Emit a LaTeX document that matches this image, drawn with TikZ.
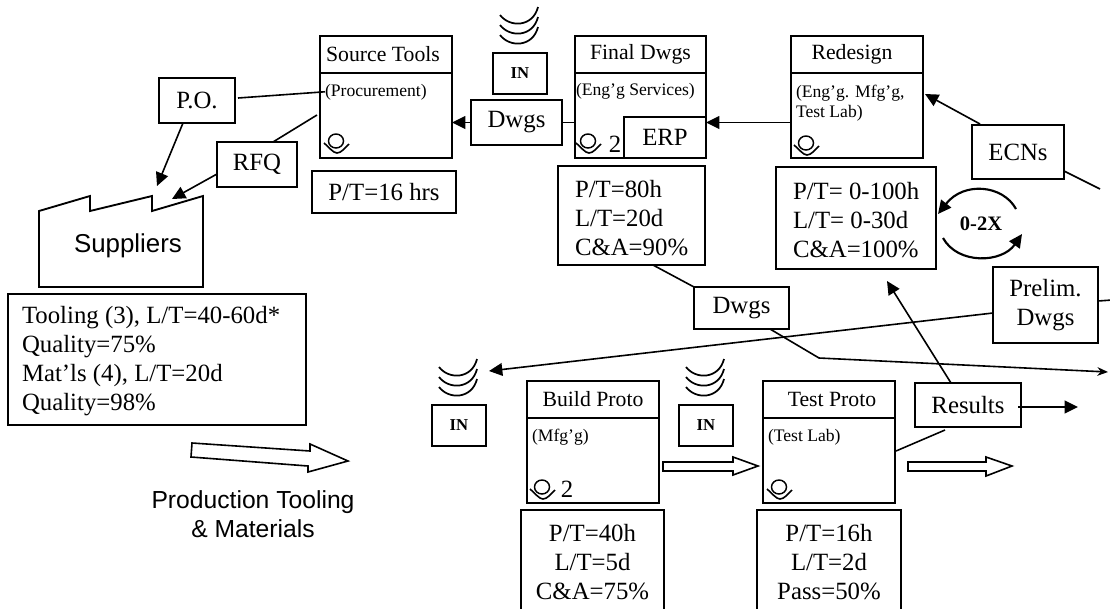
\documentclass[tikz,border=0pt]{standalone}
\usepackage{fontspec}
\setmainfont{Liberation Serif}
\newfontfamily\arialf{Liberation Sans}
\usetikzlibrary{arrows.meta,calc}
\newcommand{\fmain}{\fontsize{18.6}{21.75}\selectfont}
\newcommand{\ftitle}{\fontsize{16.3}{19}\selectfont}
\newcommand{\fsub}{\fontsize{13.2}{15}\selectfont}
\newcommand{\fin}{\fontsize{12.5}{14}\bfseries\selectfont}
\tikzset{
  x=0.75pt,y=-0.75pt,
  every node/.style={inner sep=0pt,outer sep=0pt},
  rectbox/.style 2 args={draw=black,line width=1.4pt,fill=white,anchor=north west,
    minimum width=#1*0.75pt,minimum height=#2*0.75pt,align=center,font=\fmain},
  thinbox/.style 2 args={rectbox={#1}{#2},line width=1.3pt},
  titlebox/.style={thinbox={132}{37},font=\ftitle},
  bodybox/.style={thinbox={132}{#1},font=\ftitle},
  inbox/.style={thinbox={54}{41},font=\fin,line width=1.7pt},
  sublabel/.style={anchor=base west,font=\fsub,align=left},
  metrictext/.style={anchor=base west,font=\fmain},
  link/.style={draw=black,line width=1.2pt},
  arrowlink/.style={link,-{Triangle[length=10pt,width=9.5pt]}},
  hollow/.style={draw=black,line width=1.2pt,fill=white,line join=miter},
  pics/operator/.style={code={
    \draw[line width=1.1pt] (0,0) ellipse (7.5 and 7);
    \draw[line width=1.2pt] (-12,2) .. controls (-7,6) and (-3,12) .. (1,12) .. controls (5,12) and (9,7) .. (13,3);
  }},
  pics/swirl/.style={code={
    \foreach \d in {0,10,20}{
      \draw[line width=1.3pt] (0,\d) .. controls (10,\d+13) and (33,\d+12) .. (38,\d-8);
    }
  }}
}
\newcommand{\metriclines}[1]{\renewcommand{\arraystretch}{1}\setlength{\baselineskip}{21.75pt}\begin{tabular}[t]{@{}l@{}}#1\end{tabular}}
\begin{document}
\begin{tikzpicture}
\useasboundingbox (0,0) rectangle (1110,608);
\clip (0,0) rectangle (1110,608);

% Suppliers
\draw[line width=1.4pt,line join=miter] (39,211) -- (90,196) -- (90,211) -- (152,196) -- (152,211) -- (203,196) -- (203,287) -- (39,287) -- cycle;
\node[font=\arialf\fontsize{19.4}{22}\selectfont] (suppliers) at (128,246) {Suppliers};

\node[rectbox={298}{131}] (tooling) at (8,294) {};
\node[metrictext] (toolingText) at (22,323) {\metriclines{Tooling (3), L/T=40-60d*\\Quality=75\%\\Mat’ls (4), L/T=20d\\Quality=98\%}};

\node[font=\arialf\fontsize{18.5}{21.75}\selectfont,align=center] (prodlabel) at (253,514) {Production Tooling\\\& Materials};
\draw[hollow] (192,443) -- (310,451) -- (310,444) -- (348,461) -- (308,472) -- (308,466) -- (191,457) -- cycle;

% Source Tools
\node[bodybox=122] (srcB) at (320,36) {};
\node[titlebox] (srcT) at (320,36) {\kern-4.5pt Source Tools};
\node[sublabel] (srcS) at (325,96) {(Procurement)};
\pic at (336,141) {operator};

\node[rectbox={76}{45}] (po) at (159,78) {P.O.};
\node[rectbox={80}{45}] (rfq) at (217,142) {RFQ};
\node[rectbox={144}{42}] (pt16) at (312,171) {P/T=16 hrs};

\coordinate (suppPO) at (157,186);
\coordinate (suppRFQ) at (172,199);
\draw[link] ($(po.east)+(3,-2.5)$) -- (srcS.west);
\draw[link] (rfq.north east) ++(-24,0) -- ($(srcB.west)+(-3,18)$);
\draw[arrowlink] ($(po.south)+(-14,0)$) -- (suppPO);
\draw[arrowlink] ($(rfq.west)+(0,9.5)$) -- (suppRFQ);

% Dwgs top + IN
\pic at (500,15) {swirl};
\node[inbox] (intop) at (493,53) {IN};
\node[rectbox={91}{45}] (dwgsT) at (471,100) {Dwgs};

% Final Dwgs
\node[thinbox={131}{122}] (finB) at (575,36) {};
\node[titlebox,minimum width=131*0.75pt] (finT) at (575,36) {Final Dwgs};
\node[sublabel] (finS) at (576,95) {(Eng’g Services)};
\pic at (588,141) {operator};
\node[anchor=base,font=\fmain] (finN) at (615,152) {2};
\node[rectbox={82}{41}] (erp) at (624,117) {ERP};

\draw[arrowlink] (dwgsT.west) -- (srcB.east |- dwgsT.west);
\draw[link] (dwgsT.east) -- (finB.west |- dwgsT.east);

\node[rectbox={147}{99}] (mFin) at (558,166) {};
\node[metrictext] (mFinText) at (575,197) {\metriclines{P/T=80h\\L/T=20d\\C\&A=90\%}};

% Redesign
\node[bodybox=122] (redB) at (791,36) {};
\node[titlebox] (redT) at (791,36) {\kern-7.5pt Redesign};
\node[sublabel] (redS) at (796,97) {(Eng’g. Mfg’g,};
\node[sublabel] (redS2) at (796,117) {Test Lab)};
\pic at (806,143) {operator};
\draw[arrowlink] (redB.west |- dwgsT.east) -- (erp.east |- dwgsT.east);

\node[rectbox={160}{102}] (mRed) at (776,167) {};
\node[metrictext] (mRedText) at (793,199) {\metriclines{P/T= 0-100h\\L/T= 0-30d\\C\&A=100\%}};

% ECNs
\node[rectbox={92}{54}] (ecn) at (972,125) {ECNs};
\coordinate (redIn) at (925,94);
\coordinate (ecnOut) at (1100,189);
\draw[arrowlink] ($(ecn.north west)+(8,-1)$) -- (redIn);
\draw[link] (ecn.south east) ++(0,-8) -- (ecnOut);

% 0-2X
\node[font=\fontsize{15.4}{18}\bfseries\selectfont] (rep) at (981,224) {0-2X};
\coordinate (c1a) at (1016,209);
\coordinate (c1b) at (938,214);
\coordinate (c2a) at (943,238);
\coordinate (c2b) at (1022,234);
\draw[line width=1.6pt,-{Triangle[length=10pt,width=9.5pt]}] (c1a) .. controls (1003,185) and (964,181) .. (c1b);
\draw[line width=1.6pt,-{Triangle[length=10pt,width=9.5pt]}] (c2a) .. controls (958,265) and (1002,263) .. (c2b);

% Lower Dwgs
\node[rectbox={95}{42}] (dwgsL) at (694,287) {Dwgs};
\coordinate (bend) at (819,358);
\coordinate (dwgsEnd) at (1108,372);
\draw[link] ($(mFin.south west)+(95,0)$) -- (dwgsL.north west);
\draw[link,-{Stealth[length=8pt,width=6.5pt]}] ($(dwgsL.south west)+(76,0)$) -- (bend) -- (dwgsEnd);

% Prelim
\node[rectbox={105}{76}] (prelim) at (993,267) {Prelim.\\Dwgs};
\coordinate (prelimOut) at (1112,300);
\coordinate (inLeft) at (489,371);
\draw[link] ($(prelim.east)+(0,-4)$) -- (prelimOut);
\draw[arrowlink] ($(prelim.west)+(0,8)$) -- (inLeft);

% IN lower
\pic at (439,367) {swirl};
\node[inbox] (inL) at (432,405) {IN};
\pic at (686,367) {swirl};
\node[inbox] (inM) at (679,405) {IN};

% Build Proto
\node[bodybox=122] (bldB) at (527,381) {};
\node[titlebox] (bldT) at (527,381) {Build Proto};
\node[sublabel] (bldS) at (532,441) {(Mfg’g)};
\pic at (542,487) {operator};
\node[anchor=base,font=\fmain] (bldN) at (567,497) {2};
\node[rectbox={143}{104}] (mBld) at (521,510) {P/T=40h\\L/T=5d\\C\&A=75\%};

% Test Proto
\node[bodybox=122] (tstB) at (763,381) {};
\node[titlebox] (tstT) at (763,381) {\kern4.5pt Test Proto};
\node[sublabel] (tstS) at (768,441) {(Test Lab)};
\pic at (779,487) {operator};
\node[rectbox={144}{104}] (mTst) at (757,510) {P/T=16h\\L/T=2d\\Pass=50\%};

% hollow arrows
\draw[hollow] (663,462) -- (733,462) -- (733,457) -- (758,466) -- (733,475) -- (733,471) -- (663,471) -- cycle;
\draw[hollow] (908,462) -- (986,462) -- (986,457) -- (1012,466) -- (986,476) -- (986,471) -- (908,471) -- cycle;

% Results
\node[rectbox={106}{44}] (res) at (915,383) {Results};
\coordinate (resTest) at (887,281);
\coordinate (resRight) at (1078,407);
\draw[arrowlink] ($(res.north west)+(36,0)$) -- (resTest);
\draw[arrowlink] ($(res.east)+(-3,2)$) -- (resRight);
\draw[link] ($(res.south west)+(30,3)$) -- ($(tstB.east)+(1,9)$);
\end{tikzpicture}
\end{document}
